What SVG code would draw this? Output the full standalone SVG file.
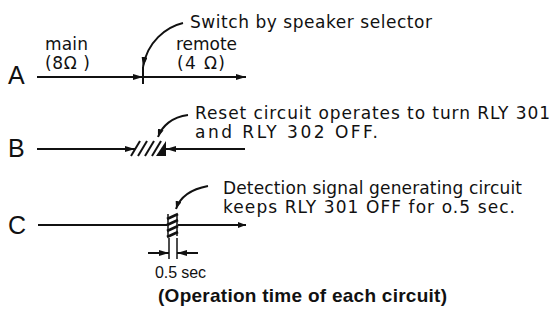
<svg xmlns="http://www.w3.org/2000/svg" width="553" height="323" viewBox="0 0 553 323">
<style>
text{font-family:"DejaVu Sans","Liberation Sans",Arial,sans-serif;fill:#111}
.lbl{font-family:"Liberation Sans",Arial,sans-serif;font-size:25px}
.t{font-size:17px}
.s{font-family:"Liberation Sans",Arial,sans-serif;font-size:16px}
.ttl{font-family:"Liberation Sans",Arial,sans-serif;font-size:19px;font-weight:bold}
.ln{stroke:#111;stroke-width:2;fill:none}
.cv{stroke:#111;stroke-width:2;fill:none}
.thin{stroke:#111;stroke-width:1.5;fill:none}
</style>
<defs>
<marker id="ah" viewBox="0 0 10 6" refX="10" refY="3" markerWidth="10" markerHeight="6" markerUnits="userSpaceOnUse" orient="auto">
<path d="M0,0 L10,3 L0,6 Z" fill="#111"/>
</marker>
<marker id="ahs" viewBox="0 0 8 6" refX="8" refY="3" markerWidth="8" markerHeight="6" markerUnits="userSpaceOnUse" orient="auto">
<path d="M0,0 L8,3 L0,6 Z" fill="#111"/>
</marker>
</defs>

<g id="rowA">
<text class="lbl" x="8" y="84">A</text>
<text class="t" x="45" y="50" textLength="43" lengthAdjust="spacing">main</text>
<text class="t" x="45" y="69" textLength="45" lengthAdjust="spacing">(8Ω )</text>
<text class="t" x="176" y="50" textLength="61" lengthAdjust="spacing">remote</text>
<text class="t" x="177" y="69" textLength="48" lengthAdjust="spacing">(4 Ω)</text>
<line class="ln" x1="143" y1="67" x2="143" y2="84"/>
</g>

<g id="rowB">
<text class="lbl" x="8" y="157">B</text>
<g stroke="#111" stroke-width="2">
<line x1="131" y1="156" x2="140" y2="141"/>
<line x1="138" y1="156" x2="147" y2="141"/>
<line x1="145" y1="156" x2="154" y2="141"/>
<line x1="152" y1="156" x2="161" y2="141"/>
</g>
<path d="M156,156 L166,156 L166,141 Z" fill="#111"/>
</g>

<g id="rowC">
<text class="lbl" x="8" y="234">C</text>
<rect x="167" y="214" width="11" height="22" fill="#fff"/>
<g stroke="#111" stroke-width="2.6">
<line x1="167" y1="219" x2="178" y2="214"/>
<line x1="167" y1="225" x2="178" y2="220"/>
<line x1="167" y1="231" x2="178" y2="226"/>
<line x1="167" y1="237" x2="178" y2="232"/>
</g>
<line class="thin" x1="168" y1="214" x2="168" y2="236"/>
<line class="thin" x1="177" y1="214" x2="177" y2="236"/>
</g>

<g id="connectors">
<line class="ln" x1="37" y1="77" x2="143" y2="77" marker-end="url(#ah)"/>
<line class="ln" x1="143" y1="77" x2="246" y2="77" marker-end="url(#ah)"/>
<path class="cv" d="M183,23 C166,27 147,42 143,67" marker-end="url(#ah)"/>

<line class="ln" x1="37" y1="149" x2="135" y2="149" marker-end="url(#ah)"/>
<line class="ln" x1="245" y1="149" x2="166" y2="149" marker-end="url(#ah)"/>
<path class="cv" d="M188,115 C172,117 162,126 158,137" marker-end="url(#ahs)"/>

<line class="ln" x1="38" y1="225" x2="167" y2="225"/>
<line class="ln" x1="178" y1="225" x2="246" y2="225" marker-end="url(#ahs)"/>
<path class="cv" d="M208,186 C192,189 180,197 176,209" marker-end="url(#ahs)"/>

<line class="thin" x1="169" y1="238" x2="169" y2="259"/>
<line class="thin" x1="177" y1="238" x2="177" y2="259"/>
<line class="ln" x1="148" y1="253" x2="169" y2="253" marker-end="url(#ah)"/>
<line class="ln" x1="198" y1="253" x2="177" y2="253" marker-end="url(#ah)"/>
</g>

<g id="notes">
<text class="t" x="190" y="28" textLength="242" lengthAdjust="spacing">Switch by speaker selector</text>
<text class="t" x="195" y="119" textLength="355" lengthAdjust="spacing">Reset circuit operates to turn RLY 301</text>
<text class="t" x="195" y="138" textLength="183" lengthAdjust="spacing">and RLY 302 OFF.</text>
<text class="t" x="223" y="194" textLength="299" lengthAdjust="spacing">Detection signal generating circuit</text>
<text class="t" x="223" y="213" textLength="292" lengthAdjust="spacing">keeps RLY 301 OFF for o.5 sec.</text>
<text class="s" x="155" y="278" textLength="51" lengthAdjust="spacing">0.5 sec</text>
<text class="ttl" x="158" y="302" textLength="289" lengthAdjust="spacing">(Operation time of each circuit)</text>
</g>
</svg>
